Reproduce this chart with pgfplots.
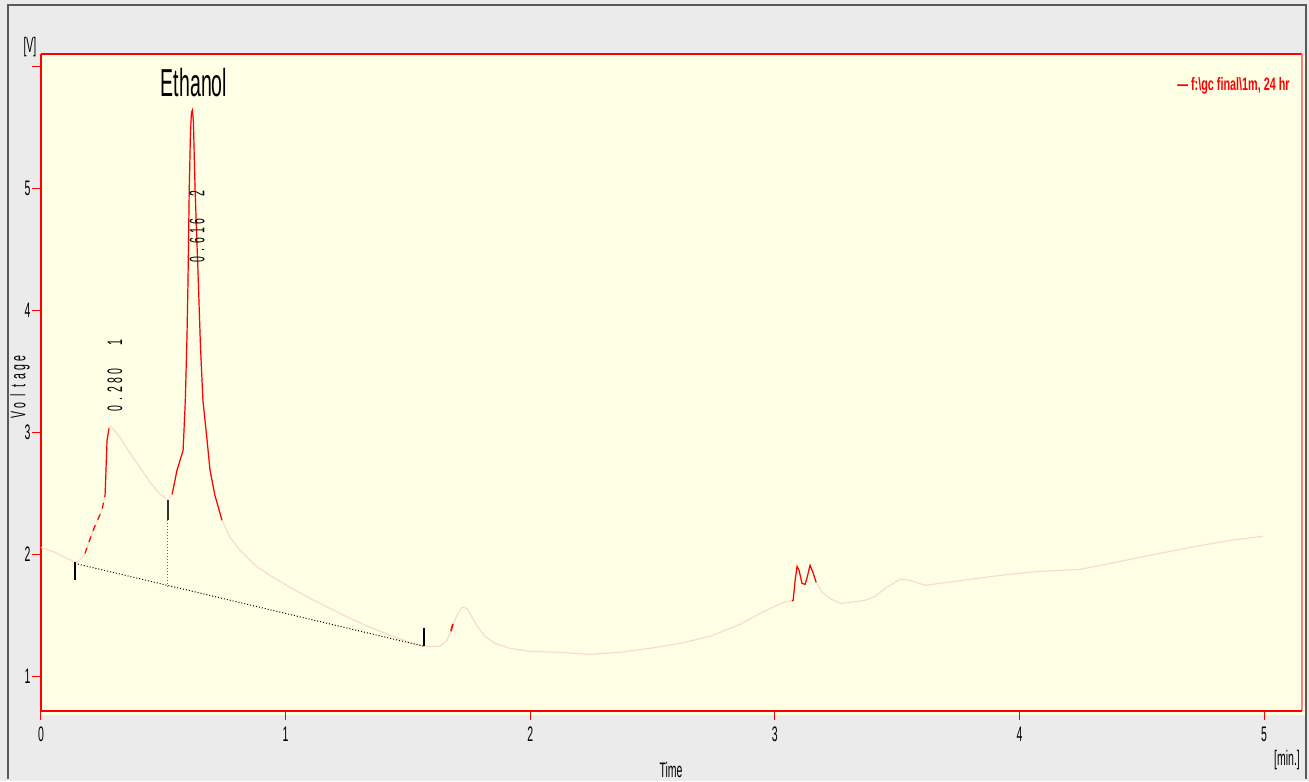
\documentclass[border=0pt]{standalone}
\usepackage{pgfplots}
\pgfplotsset{compat=1.18}
\usepackage{fontspec}
\setmainfont{Liberation Sans}[FakeStretch=0.5]
\newfontfamily\legfont{Liberation Sans}[FakeStretch=0.6]
\definecolor{bggray}{HTML}{EBEBEB}
\definecolor{plotbg}{HTML}{FFFFE6}
\definecolor{trace}{HTML}{F8DBCD}
\definecolor{axred}{HTML}{FF0000}
\definecolor{rightred}{HTML}{FF8080}
\newcommand\slot[1]{\makebox[4.7pt]{#1}}

\pgfplotstableread{
x y
0.000 2.057
0.057 2.016
0.131 1.943
0.151 1.934
0.180 2.008
0.213 2.197
0.249 2.361
0.262 2.484
0.270 2.934
0.278 3.033
0.286 3.049
0.323 2.959
0.364 2.828
0.405 2.713
0.446 2.590
0.487 2.492
0.519 2.443
0.536 2.492
0.556 2.689
0.581 2.852
0.590 3.262
0.597 3.800
0.601 4.246
0.606 4.984
0.611 5.450
0.615 5.620
0.619 5.640
0.623 5.550
0.630 4.984
0.643 4.246
0.652 3.700
0.662 3.262
0.679 2.934
0.691 2.689
0.711 2.484
0.740 2.279
0.773 2.139
0.814 2.033
0.875 1.910
0.936 1.828
1.018 1.730
1.100 1.639
1.182 1.557
1.263 1.475
1.345 1.402
1.427 1.336
1.509 1.279
1.566 1.246
1.631 1.246
1.660 1.295
1.680 1.402
1.701 1.500
1.721 1.566
1.742 1.557
1.762 1.484
1.787 1.402
1.815 1.328
1.856 1.270
1.917 1.230
1.999 1.205
2.122 1.197
2.245 1.180
2.367 1.197
2.490 1.230
2.612 1.270
2.735 1.328
2.858 1.426
2.940 1.516
3.034 1.607
3.062 1.615
3.075 1.623
3.083 1.787
3.091 1.902
3.099 1.869
3.111 1.762
3.124 1.754
3.132 1.811
3.144 1.910
3.156 1.852
3.169 1.770
3.193 1.689
3.226 1.639
3.267 1.598
3.308 1.607
3.369 1.623
3.410 1.656
3.451 1.721
3.512 1.795
3.553 1.787
3.614 1.746
3.675 1.762
3.798 1.795
3.921 1.828
4.084 1.861
4.248 1.877
4.371 1.926
4.534 1.992
4.698 2.057
4.861 2.115
4.996 2.148
}\trace

\begin{document}
\begin{tikzpicture}
\path[use as bounding box, fill=bggray] (-20.5pt,-35pt) rectangle (634pt,355.5pt);
\draw[black!65, line width=0.6pt] (-16.5pt,-34pt) -- (-16.5pt,353pt) -- (632.5pt,353pt) -- (632.5pt,-34pt);
\fill[plotbg] (0pt,-2pt) rectangle (632pt,328.7pt);
\draw[axred, line width=1pt] (0pt,328.7pt) -- (630.35pt,328.7pt);
\draw[rightred, line width=1pt] (630.35pt,328.7pt) -- (630.35pt,0pt);
\begin{axis}[at={(0pt,0pt)}, anchor=south west, scale only axis,
  width=630.35pt, height=328.7pt,
  xmin=0, xmax=5.154, ymin=0.716, ymax=6.104,
  axis lines*=left,
  axis line style={axred, line width=0.7pt},
  tick style={axred, line width=0.5pt},
  tick align=outside,
  major tick length=4.5pt,
  xtick={0,1,2,3,4,5}, xticklabels={0,1,2,3,4,5},
  ytick={1,2,3,4,5,6}, yticklabels={1,2,3,4,5,{}},
  ticklabel style={font=\fontsize{10.5}{12}\selectfont, text=black},
  yticklabel style={inner sep=1pt, xshift=0.4pt},
  clip=false]
\addplot[trace, line width=0.6pt] table {\trace};
% red segments
\addplot[axred, line width=0.6pt, dashed] coordinates {(0.180,2.008) (0.213,2.197) (0.249,2.361) (0.262,2.484)};
\addplot[axred, line width=0.6pt] coordinates {(0.262,2.484) (0.270,2.934) (0.278,3.033)};
\addplot[axred, line width=0.6pt] coordinates {(0.536,2.492) (0.556,2.689) (0.581,2.852) (0.590,3.262) (0.597,3.800) (0.601,4.246) (0.606,4.984) (0.611,5.450) (0.615,5.620) (0.619,5.640) (0.623,5.550) (0.630,4.984) (0.643,4.246) (0.652,3.700) (0.662,3.262) (0.679,2.934) (0.691,2.689) (0.711,2.484) (0.740,2.279)};
\addplot[axred, line width=0.8pt] coordinates {(1.676,1.37) (1.684,1.43)};
\addplot[axred, line width=0.6pt] coordinates {(3.070,1.619) (3.075,1.623) (3.083,1.787) (3.091,1.902) (3.099,1.869) (3.111,1.762) (3.124,1.754) (3.132,1.811) (3.144,1.910) (3.156,1.852) (3.169,1.770)};
% baseline and markers
\addplot[black, densely dotted, line width=0.5pt] coordinates {(0.139,1.926) (1.566,1.246)};
\addplot[black, line width=0.6pt] coordinates {(0.139,1.934) (0.139,1.787)};
\addplot[black!80, line width=0.6pt] coordinates {(0.519,2.443) (0.519,2.280)};
\addplot[black!60, densely dotted, line width=0.5pt] coordinates {(0.519,2.280) (0.519,1.738)};
\addplot[black, line width=0.6pt] coordinates {(1.566,1.393) (1.566,1.246)};
% annotations
\node[font=\fontsize{19.5}{22}\selectfont] at (axis cs:0.6255,5.869) {Ethanol};
\node[rotate=90, font=\fontsize{10.5}{12}\selectfont, inner sep=0pt] at (axis cs:0.3025,3.463) {\slot{0}\slot{.}\slot{2}\slot{8}\slot{0}\slot{}\slot{}\slot{1}};
\node[rotate=90, font=\fontsize{10.5}{12}\selectfont, inner sep=0pt] at (axis cs:0.638,4.689) {\slot{0}\slot{.}\slot{6}\slot{1}\slot{6}\slot{}\slot{}\slot{2}};
\node[anchor=east, text=axred, font=\legfont\bfseries\fontsize{9}{10}\selectfont, inner sep=0pt] at (axis cs:5.106,5.836) {— f:\textbackslash gc final\textbackslash 1m, 24 hr};
% axis labels
\node[font=\fontsize{10.5}{12}\selectfont] at (axis cs:-0.045,6.156) {[V]};
\node[rotate=90, font=\fontsize{10.5}{12}\selectfont] at (axis cs:-0.0859,3.377) {\slot{V}\slot{o}\slot{l}\slot{t}\slot{a}\slot{g}\slot{e}};
\node[font=\fontsize{10.5}{12}\selectfont] at (axis cs:2.576,0.2295) {Time};
\node[font=\fontsize{10.5}{12}\selectfont] at (axis cs:5.094,0.311) {[min.]};
\end{axis}
\end{tikzpicture}
\end{document}
